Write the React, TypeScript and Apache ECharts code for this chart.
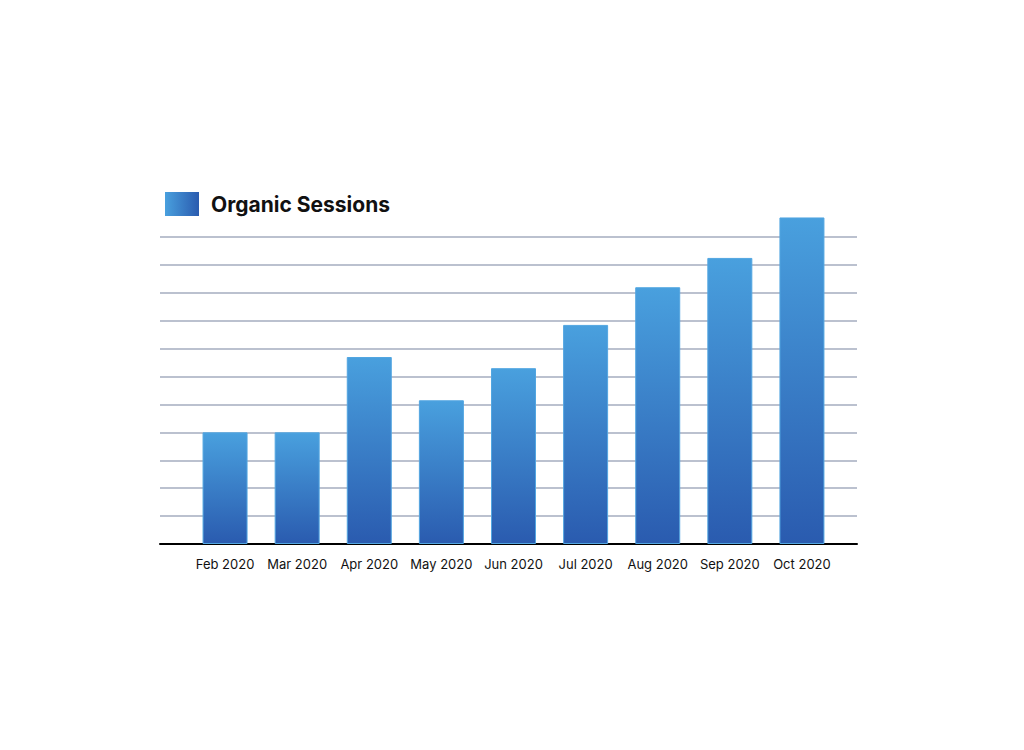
import React, { useEffect, useRef } from "react";
import * as echarts from "echarts";

const months = ["Feb 2020", "Mar 2020", "Apr 2020", "May 2020", "Jun 2020", "Jul 2020", "Aug 2020", "Sep 2020", "Oct 2020"];
const organicSessions = [4, 4, 6.7, 5.15, 6.3, 7.85, 9.2, 10.25, 11.7];
const seriesName = "Organic Sessions";

const App = () => {
  const chartRef = useRef<HTMLDivElement | null>(null);

  useEffect(() => {
    const chart = echarts.init(chartRef.current as HTMLDivElement, null, { renderer: "svg" });
    const font = "Inter, 'Noto Sans', sans-serif";
    const barGradient = new echarts.graphic.LinearGradient(0, 0, 0, 1, [
      { offset: 0, color: "#49a0de" },
      { offset: 1, color: "#2a5baf" },
    ]);
    const legendGradient = new echarts.graphic.LinearGradient(0, 0, 1, 0, [
      { offset: 0, color: "#49a0de" },
      { offset: 1, color: "#2a5baf" },
    ]);
    chart.setOption({
      animation: false,
      legend: {
        left: 160,
        top: 187,
        itemWidth: 34,
        itemHeight: 24,
        icon: "rect",
        data: [{ name: seriesName, icon: "rect", itemStyle: { color: legendGradient, borderWidth: 0 } }],
        textStyle: { fontFamily: font, fontSize: 21, fontWeight: "bold", color: "#111", padding: [0, 0, 0, 7] },
      },
      grid: [
        // bars
        { left: 189, right: 186, top: 237, bottom: 206 },
        // gridlines and base axis
        { left: 160, right: 167, top: 237, bottom: 206 },
      ],
      xAxis: [
        {
          type: "category",
          gridIndex: 0,
          data: months,
          axisLine: { show: false },
          axisTick: { show: false },
          axisLabel: { color: "#111", fontFamily: font, fontSize: 13, margin: 13, interval: 0 },
        },
        {
          type: "category",
          gridIndex: 1,
          data: [""],
          axisLine: { show: true, lineStyle: { color: "#000", width: 2 } },
          axisTick: { show: false },
          axisLabel: { show: false },
        },
      ],
      yAxis: [
        { type: "value", gridIndex: 0, min: 0, max: 11, interval: 1, show: false, splitLine: { show: false } },
        {
          type: "value",
          gridIndex: 1,
          min: 0,
          max: 11,
          interval: 1,
          axisLine: { show: false },
          axisTick: { show: false },
          axisLabel: { show: false },
          splitLine: { lineStyle: { color: "#a4adbf", width: 1.5 } },
        },
      ],
      series: [
        {
          name: seriesName,
          type: "bar",
          xAxisIndex: 0,
          yAxisIndex: 0,
          data: organicSessions,
          barWidth: 45,
          clip: false,
          z: 3,
          itemStyle: { color: barGradient, borderColor: "#52a6e1", borderWidth: 1 },
        },
      ],
    });
    return () => {
      chart.dispose();
    };
  }, []);

  return <div ref={chartRef} style={{ width: 1024, height: 750, margin: -8 }}></div>;
};

export default App;
